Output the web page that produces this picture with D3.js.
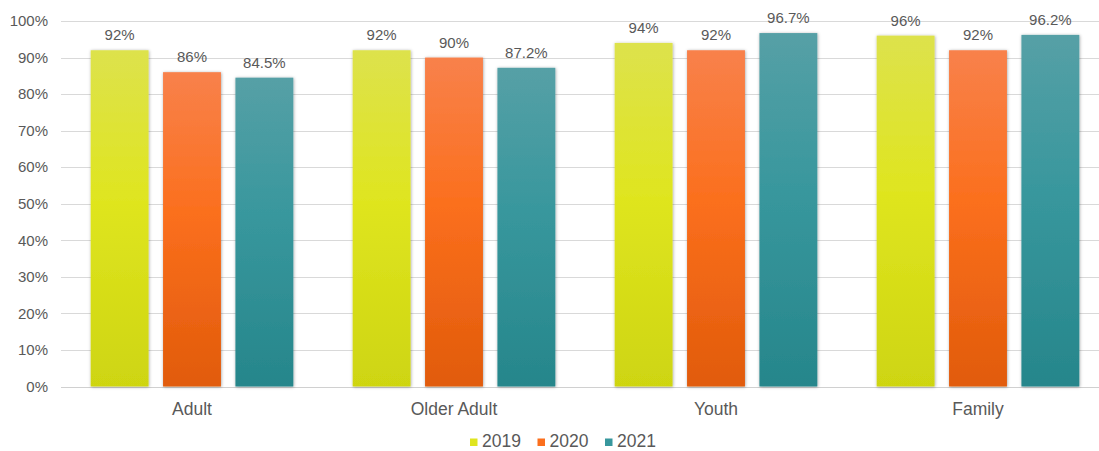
<!DOCTYPE html>
<html><head><meta charset="utf-8">
<script src="https://cdn.jsdelivr.net/npm/d3@7"></script>
<style>body{margin:0;background:#fff}svg{display:block;font-family:Arial,"Liberation Sans",sans-serif}</style>
</head><body><svg id="c" width="1099" height="451"></svg>
<script>
const categories = ["Adult","Older Adult","Youth","Family"];
const seriesNames = ["2019","2020","2021"];
const values2019 = [92,92,94,96];
const values2020 = [86,90,92,92];
const values2021 = [84.5,87.2,96.7,96.2];
const labels2019 = ["92%","92%","94%","96%"];
const labels2020 = ["86%","90%","92%","92%"];
const labels2021 = ["84.5%","87.2%","96.7%","96.2%"];
const yTicks = [0,10,20,30,40,50,60,70,80,90,100];

const seriesValues = [values2019, values2020, values2021];
const seriesLabels = [labels2019, labels2020, labels2021];
const gradStops = [
  ["#dde24c","#dfe51f","#ced511"],
  ["#f8814b","#fb6f1d","#e15b0b"],
  ["#56a0a6","#38979d","#26868b"]
];

const svg = d3.select("#c");
const defs = svg.append("defs");
gradStops.forEach((s,i)=>{
  const g = defs.append("linearGradient").attr("id","g"+i).attr("x1",0).attr("y1",0).attr("x2",0).attr("y2",1);
  g.append("stop").attr("offset","0%").attr("stop-color",s[0]);
  g.append("stop").attr("offset","45%").attr("stop-color",s[1]);
  g.append("stop").attr("offset","100%").attr("stop-color",s[2]);
});
const f = defs.append("filter").attr("id","sh").attr("x","-20%").attr("y","-5%").attr("width","140%").attr("height","115%");
f.append("feDropShadow").attr("dx",0.5).attr("dy",0.5).attr("stdDeviation",1.6).attr("flood-color","#000").attr("flood-opacity",0.35);

const y = d3.scaleLinear().domain([0,100]).range([386.5,21]);
const x0 = d3.scaleBand().domain(categories).range([61,1109]);
const x1 = d3.scaleBand().domain(seriesNames).range([0,x0.bandwidth()]).paddingInner(0.2).paddingOuter(0.41);

// gridlines
svg.append("g").selectAll("line").data(yTicks).join("line")
  .attr("x1",61).attr("x2",1099).attr("y1",d=>Math.round(y(d))+0.5).attr("y2",d=>Math.round(y(d))+0.5)
  .attr("stroke",d=>d===0?"#d0d0d0":"#d9d9d9").attr("stroke-width",1);

// y tick labels
svg.append("g").selectAll("text").data(yTicks).join("text")
  .attr("x",48).attr("y",d=>y(d)).attr("dy","0.35em").attr("text-anchor","end")
  .attr("font-size",15).attr("fill","#595959").text(d=>d+"%");

// bars
categories.forEach((c,ci)=>{
  seriesNames.forEach((s,si)=>{
    const v = seriesValues[si][ci];
    const bx = x0(c)+x1(s);
    svg.append("rect").attr("x",bx).attr("y",y(v)).attr("width",x1.bandwidth()).attr("height",y(0)-y(v))
      .attr("fill","url(#g"+si+")").attr("filter","url(#sh)");
    svg.append("text").attr("x",bx+x1.bandwidth()/2).attr("y",y(v)-10).attr("text-anchor","middle")
      .attr("font-size",15).attr("fill","#595959").text(seriesLabels[si][ci]);
  });
});

// category labels
svg.append("g").selectAll("text").data(categories).join("text")
  .attr("x",d=>x0(d)+x0.bandwidth()/2).attr("y",415).attr("text-anchor","middle")
  .attr("font-size",17.5).attr("fill","#595959").text(d=>d);

// legend
const lg = svg.append("g");
const legX = [470,537.5,605];
seriesNames.forEach((s,i)=>{
  lg.append("rect").attr("x",legX[i]).attr("y",438.5).attr("width",7.5).attr("height",7.5).attr("fill",gradStops[i][1]);
  lg.append("text").attr("x",legX[i]+12).attr("y",446.5).attr("font-size",17.5).attr("fill","#595959").text(s);
});
</script></body></html>
